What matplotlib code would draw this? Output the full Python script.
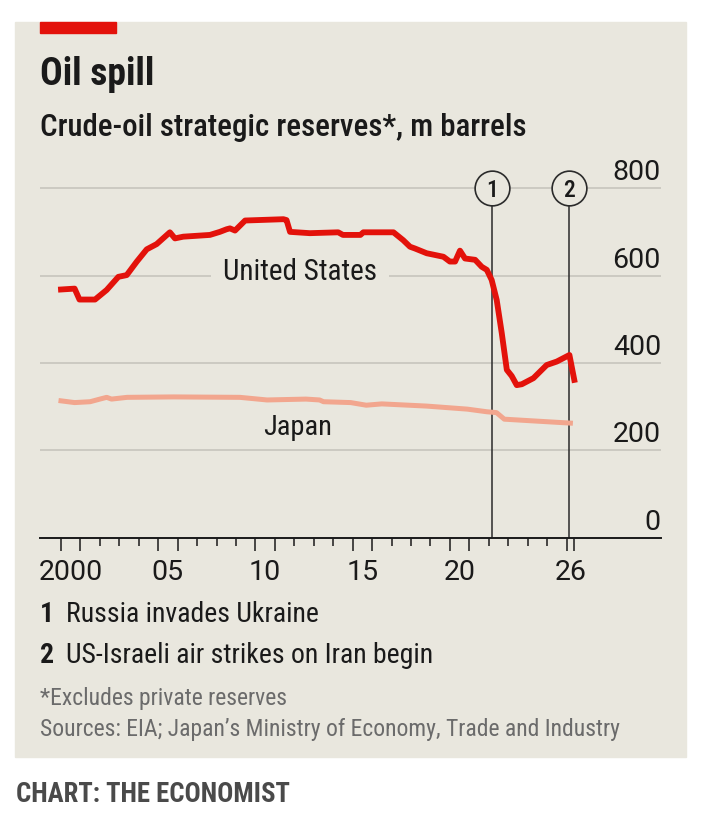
import matplotlib
matplotlib.use("Agg")
import matplotlib.pyplot as plt
from matplotlib.patches import Rectangle
from matplotlib.transforms import blended_transform_factory

plt.rcParams["font.family"] = ["Roboto Condensed", "DejaVu Sans"]

# US strategic petroleum reserve, m barrels
us_year = [2000.0, 2000.7, 2000.95, 2001.75, 2002.35, 2002.95, 2003.38, 2003.9, 2004.41,
           2004.92, 2005.6, 2005.86, 2006.29, 2007.66, 2008.17, 2008.52, 2008.69, 2008.95,
           2009.47, 2011.44, 2011.6, 2011.78, 2012.8, 2014.26, 2014.5, 2015.4, 2015.55,
           2017.1, 2017.6, 2017.95, 2018.2, 2018.81, 2019.67, 2020.0, 2020.27, 2020.52,
           2020.78, 2021.3, 2021.64, 2021.9, 2022.15, 2022.41, 2022.67, 2022.93, 2023.18,
           2023.44, 2023.7, 2024.3, 2024.98, 2025.5, 2026.15, 2026.4]
us_value = [568, 570, 545, 545, 567, 597, 601, 632, 660,
            672, 699, 685, 689, 693, 700, 706, 708, 703,
            726, 729, 727, 700, 697, 699, 693, 693, 699,
            699, 681, 666, 662, 651, 643, 632, 632, 657,
            639, 636, 620, 613, 590, 544, 468, 384, 370,
            349, 351, 365, 395, 403, 418, 361]

# Japan state reserves, m barrels
jp_year = [2000.0, 2000.7, 2001.5, 2002.0, 2002.35, 2002.6, 2003.4, 2005.8, 2009.2, 2010.6,
           2012.6, 2013.3, 2013.5, 2014.9, 2015.7, 2016.5, 2018.8, 2020.9, 2021.9, 2022.4,
           2022.8, 2024.3, 2026.2]
jp_value = [313, 309, 311, 317, 321, 317, 321, 322, 321, 315,
            317, 315, 311, 309, 303, 306, 301, 294, 288, 286,
            271, 267, 262]

events = [2022.15, 2026.15]
event_labels = ["1", "2"]
yticks = [0, 200, 400, 600, 800]
xlabel_pos = [2000.5, 2005.5, 2010.5, 2015.5, 2020.5, 2026.2]
xlabels = ["2000", "05", "10", "15", "20", "26"]

BG = "#e9e7de"
RED = "#e3120b"
JP = "#f2a68e"
GRID = "#c9c7bf"
INK = "#1a1a1a"

W, H = 710, 814
fig = plt.figure(figsize=(W / 100, H / 100), dpi=100, facecolor="white")

def fx(x):
    return x / W

def fy(y):
    return 1 - y / H

# panel + red tab
fig.patches.append(Rectangle((fx(15), fy(757)), fx(671), (757 - 22) / H,
                             transform=fig.transFigure, color=BG, zorder=-2))
fig.patches.append(Rectangle((fx(40), fy(33)), fx(76), 11 / H,
                             transform=fig.transFigure, color=RED, zorder=-1))

fig.text(fx(40), fy(85), "Oil spill", fontsize=27, fontweight="bold", color=INK, va="baseline")
fig.text(fx(40), fy(136.5), "Crude-oil strategic reserves*, m barrels", fontsize=22.2,
         fontweight="medium", color=INK, va="baseline")

ax = fig.add_axes([fx(40), fy(537.5), fx(621), (537.5 - 150) / H])
ax.set_zorder(2)
ax.set_facecolor("none")
ax.set_xlim(1998.92, 2030.86)
ax.set_ylim(0, 887.5)
for s in ["top", "left", "right"]:
    ax.spines[s].set_visible(False)
ax.spines["bottom"].set_color(INK)
ax.spines["bottom"].set_linewidth(1.4)
ax.spines["bottom"].set_zorder(6)

# gridlines
for v in yticks[1:]:
    ax.axhline(v, color=GRID, lw=1.3, zorder=1)

# year ticks: long ones bracket the labelled years
long_ticks = [2000, 2001, 2005, 2006, 2010, 2011, 2015, 2016, 2020, 2021, 2026, 2026.4]
short_ticks = [y for y in range(2000, 2027) if y not in long_ticks]
ax.set_xticks(long_ticks)
ax.set_xticklabels([])
ax.set_xticks(short_ticks, minor=True)
ax.tick_params(axis="x", which="major", length=9, width=1.1, color=INK)
ax.tick_params(axis="x", which="minor", length=5.8, width=1.1, color=INK)
ax.set_yticks([])

xt = ax.get_xaxis_transform()
for p, lab in zip(xlabel_pos, xlabels):
    ax.text(p, -(580 - 537.5) / 387.5, lab, transform=xt, ha="center", va="baseline",
            fontsize=20.5, family=["Roboto", "DejaVu Sans"], color=INK)

yt = blended_transform_factory(ax.transAxes, ax.transData)
for v in yticks:
    ax.text(1.0, v + 18.3, str(v), transform=yt, ha="right", va="baseline",
            fontsize=20.5, family=["Roboto", "DejaVu Sans"], color=INK)

# event markers
for e, lab in zip(events, event_labels):
    ax.plot([e, e], [0, 800], color="#2b2b2b", lw=1.1, zorder=3)
    ax.plot(e, 800, marker="o", markersize=25, markerfacecolor=BG,
            markeredgecolor="#2b2b2b", markeredgewidth=1.2, zorder=7, clip_on=False)
    ax.text(e, 800, lab, ha="center", va="center_baseline", fontsize=17,
            fontweight="medium", color=INK, zorder=8)

ax.plot(jp_year, jp_value, color=JP, lw=3.6, solid_joinstyle="round", zorder=4)
ax.plot(us_year, us_value, color=RED, lw=4.2, solid_joinstyle="round", zorder=5)

ax.text(2012.29, 590, "United States", ha="center", va="baseline", fontsize=21, color=INK,
        zorder=2, bbox=dict(boxstyle="square,pad=0.42", facecolor=BG, edgecolor="none"))
ax.text(2012.19, 235, "Japan", ha="center", va="baseline", fontsize=20.5, color=INK, zorder=2)

# notes
fig.text(fx(40), fy(621.5), "1", fontsize=20, fontweight="bold", color=INK, va="baseline")
fig.text(fx(66), fy(621.5), "Russia invades Ukraine", fontsize=20, color=INK, va="baseline")
fig.text(fx(40), fy(663), "2", fontsize=20, fontweight="bold", color=INK, va="baseline")
fig.text(fx(66), fy(663), "US-Israeli air strikes on Iran begin", fontsize=20, color=INK,
         va="baseline")
fig.text(fx(40), fy(705), "*Excludes private reserves", fontsize=17, color="#6b6b6b",
         va="baseline")
fig.text(fx(40), fy(736), "Sources: EIA; Japan\u2019s Ministry of Economy, Trade and Industry",
         fontsize=17, color="#6b6b6b", va="baseline")
fig.text(fx(16), fy(801.5), "CHART: THE ECONOMIST", fontsize=19.3, fontweight="bold",
         color="#4a4a4a", va="baseline")

fig.savefig("out.png", dpi=100, facecolor="white")
